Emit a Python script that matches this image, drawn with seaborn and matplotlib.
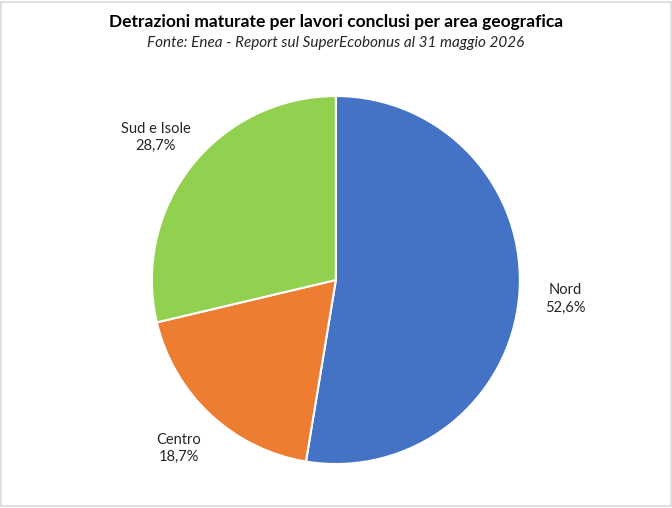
import matplotlib
matplotlib.use("Agg")
import matplotlib.pyplot as plt
import seaborn as sns
from matplotlib.patches import Rectangle

areas = ["Nord", "Centro", "Sud e Isole"]
quote = [52.6, 18.7, 28.7]
colori = ["#4472C4", "#ED7D31", "#92D050"]

sns.set_theme(style="white")
plt.rcParams['font.family'] = ['Lato', 'DejaVu Sans']

fig = plt.figure(figsize=(6.72, 5.08), dpi=100)
ax = fig.add_axes([0.226, 0.0866, 0.5476, 0.7244])

etichette = [f"{a}\n{str(q).replace('.', ',')}%" for a, q in zip(areas, quote)]
wedges, texts = ax.pie(quote, labels=etichette, colors=colori, startangle=90,
                       counterclock=False, labeldistance=1.25,
                       wedgeprops=dict(edgecolor="white", linewidth=1.5),
                       textprops=dict(fontsize=10.5, color="#262626", linespacing=1.3))
for t in texts:
    t.set_ha("center")
    t.set_va("center")
    t.set_multialignment("center")
ax.set_xlim(-1, 1)
ax.set_ylim(-1, 1)
ax.set_aspect("equal")

fig.text(0.5, 1 - 22 / 508, "Detrazioni maturate per lavori conclusi per area geografica",
         ha="center", va="center", fontsize=12.5, fontweight="bold", color="black")
fig.text(0.5, 1 - 43 / 508, "Fonte: Enea - Report sul SuperEcobonus al 31 maggio 2026",
         ha="center", va="center", fontsize=11, style="italic", color="#262626")

fig.patches.append(Rectangle((0.002, 0.004), 0.996, 0.992, transform=fig.transFigure,
                             fill=False, edgecolor="#D9D9D9", linewidth=1.2))

fig.savefig("out.png", dpi=100)
